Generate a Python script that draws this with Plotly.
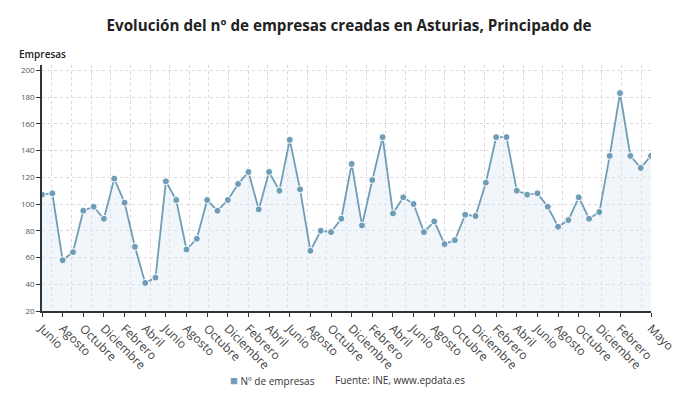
import plotly.graph_objects as go

# monthly series, Junio 2017 .. Mayo 2022
months = ["Junio", "Julio", "Agosto", "Septiembre", "Octubre", "Noviembre",
          "Diciembre", "Enero", "Febrero", "Marzo", "Abril", "Mayo"]
empresas = [107, 108, 58, 64, 95, 98, 89, 119, 101, 68, 41, 45,
            117, 103, 66, 74, 103, 95, 103, 115, 124, 96, 124, 110,
            148, 111, 65, 80, 79, 89, 130, 84, 118, 150, 93, 105,
            100, 79, 87, 70, 73, 92, 91, 116, 150, 150, 110, 107,
            108, 98, 83, 88, 105, 89, 94, 136, 183, 136, 127, 136]

x = list(range(len(empresas)))
labels = [months[i % 12] for i in x]
# ticks every two months, the one before the last is dropped
tickvals = [i for i in x if i % 2 == 0 and i < len(x) - 2] + [len(x) - 1]
ticktext = [labels[i] for i in tickvals]

color = "#6f9db8"
grid = "#ddd6e0"

fig = go.Figure()
fig.add_trace(go.Scatter(
    x=x, y=empresas, mode="lines+markers", showlegend=False,
    line=dict(color=color, width=1.8),
    marker=dict(size=7, color=color, line=dict(color="white", width=1)),
    fill="tozeroy", fillcolor="rgba(225,235,246,0.45)",
))
# invisible axis carrying the vertical grid
fig.add_trace(go.Scatter(x=[0, 31], y=[None, None], xaxis="x2",
                         showlegend=False, hoverinfo="skip"))

# page body has an 8px margin, so the figure is a bit smaller than the window
fig.update_layout(
    width=682, height=398,
    margin=dict(l=34, r=39, t=57, b=95),
    paper_bgcolor="white", plot_bgcolor="white",
    font=dict(family="Open Sans", color="#444"),
    showlegend=False,
    title=dict(text="<b>Evolución del nº de empresas creadas en Asturias, Principado de</b>",
               x=0.5, xanchor="center", y=0.955, yanchor="middle",
               font=dict(size=15.2, color="#222")),
    xaxis=dict(range=[0, len(x) - 1], tickvals=tickvals, ticktext=ticktext,
               tickangle=45, tickfont=dict(size=12, color="#444"),
               showgrid=False, showline=True, linecolor="#333", linewidth=1.5,
               ticks="outside", ticklen=4, tickcolor="#333", zeroline=False,
               automargin=False),
    xaxis2=dict(overlaying="x", range=[0, 31], tick0=0.5, dtick=1,
                showticklabels=False, showgrid=True, gridcolor=grid,
                griddash="dot", gridwidth=1, zeroline=False, side="bottom"),
    yaxis=dict(range=[20, 204], tick0=20, dtick=20,
               tickfont=dict(size=8, color="#555"),
               showgrid=True, gridcolor=grid, griddash="dot", gridwidth=1,
               showline=True, linecolor="#333", linewidth=1.5,
               ticks="outside", ticklen=4, tickcolor="#333", zeroline=False,
               automargin=False),
    annotations=[
        dict(text="Empresas", xref="paper", yref="paper", x=-0.041, y=1.045,
             xanchor="left", yanchor="middle", showarrow=False,
             font=dict(size=10, color="#222", weight=600)),
        dict(text=f"<span style='color:{color};font-size:13px'>■</span> Nº de empresas",
             xref="paper", yref="paper", x=0.306, y=-0.282,
             xanchor="left", yanchor="middle", showarrow=False,
             font=dict(size=10, color="#333")),
        dict(text="Fuente: INE, www.epdata.es", xref="paper", yref="paper",
             x=0.478, y=-0.282, xanchor="left", yanchor="middle", showarrow=False,
             font=dict(size=10, color="#333")),
    ],
)

fig.write_html("out.html")
